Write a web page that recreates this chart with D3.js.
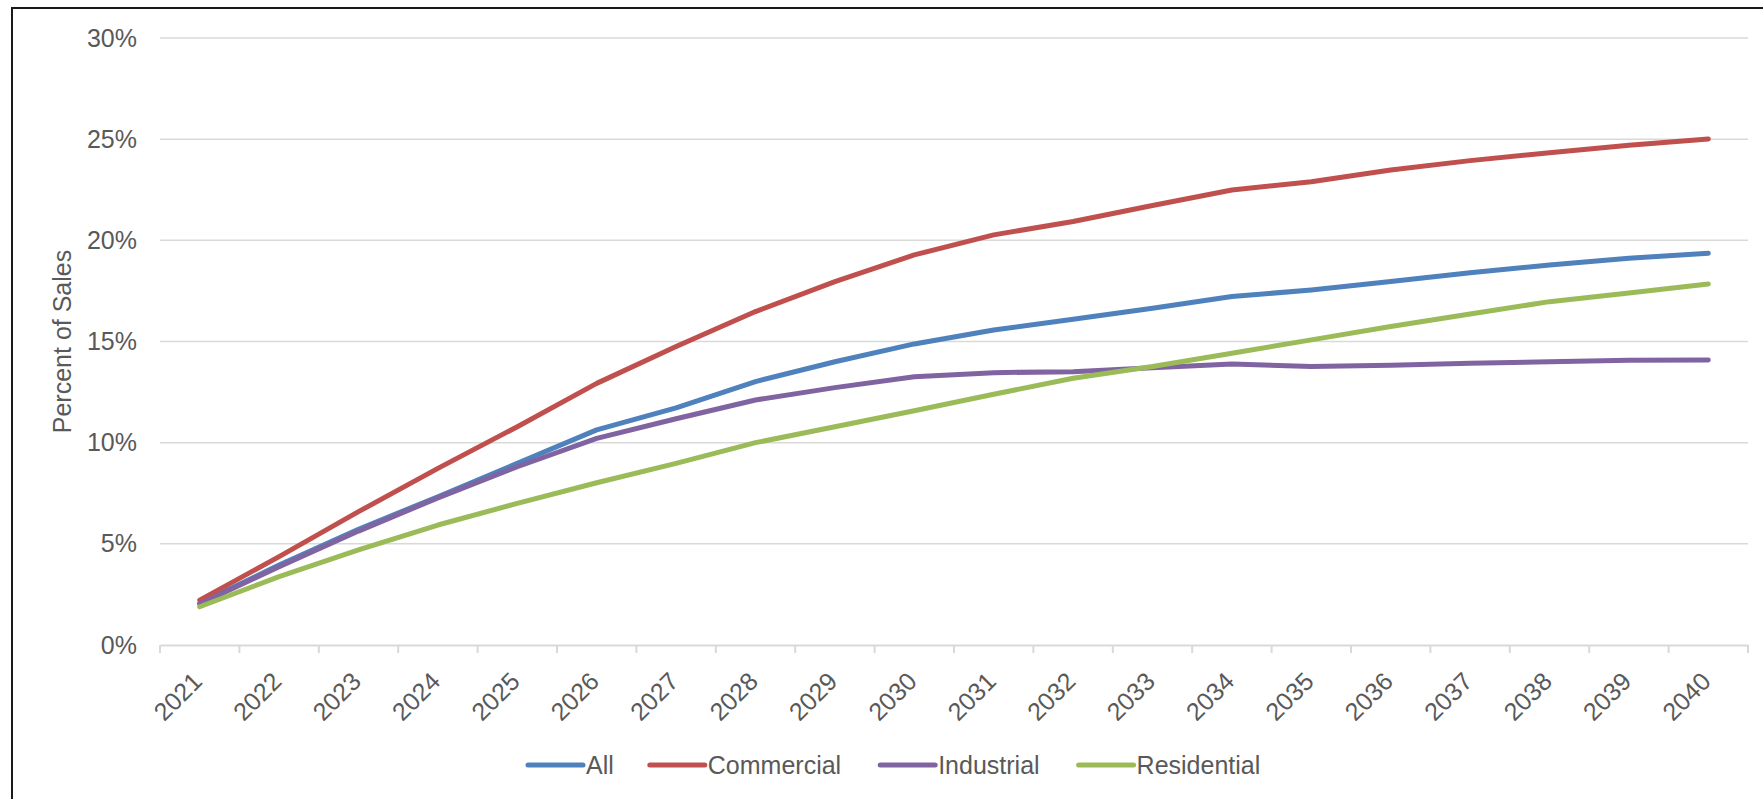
<!DOCTYPE html>
<html>
<head>
<meta charset="utf-8">
<script src="https://cdn.jsdelivr.net/npm/d3@7/dist/d3.min.js"></script>
<style>
  html, body { margin: 0; padding: 0; background: #fff; }
  svg { display: block; font-family: "Liberation Sans", Arial, sans-serif; }
</style>
</head>
<body>
<svg id="chart" width="1763" height="799"></svg>
<script>
const years = ["2021","2022","2023","2024","2025","2026","2027","2028","2029","2030",
               "2031","2032","2033","2034","2035","2036","2037","2038","2039","2040"];
const seriesNames = ["All", "Commercial", "Industrial", "Residential"];
const allValues =         [2.05, 3.95, 5.72, 7.33, 8.98, 10.63, 11.72, 13.02, 14.00, 14.88, 15.57, 16.10, 16.64, 17.22, 17.55, 17.96, 18.40, 18.78, 19.12, 19.36];
const commercialValues =  [2.22, 4.37, 6.59, 8.73, 10.79, 12.93, 14.75, 16.48, 17.96, 19.28, 20.27, 20.93, 21.72, 22.49, 22.90, 23.48, 23.94, 24.33, 24.70, 25.01];
const industrialValues =  [2.03, 3.87, 5.63, 7.27, 8.81, 10.21, 11.18, 12.11, 12.72, 13.26, 13.46, 13.51, 13.70, 13.89, 13.76, 13.83, 13.92, 14.00, 14.07, 14.08];
const residentialValues = [1.89, 3.38, 4.70, 5.93, 7.00, 8.02, 8.98, 10.00, 10.79, 11.58, 12.39, 13.18, 13.76, 14.42, 15.08, 15.74, 16.36, 16.97, 17.40, 17.84];
const yTicks = [0, 5, 10, 15, 20, 25, 30];
const yTitle = "Percent of Sales";
const colors = ["#4F81BD", "#C0504D", "#8064A2", "#9BBB59"];

const seriesValues = [allValues, commercialValues, industrialValues, residentialValues];
const series = seriesNames.map((name, i) => ({
  name, color: colors[i],
  values: years.map((y, j) => ({ year: y, value: seriesValues[i][j] }))
}));

const svg = d3.select("#chart");
const W = 1763, H = 799;
const plot = { left: 160, right: 1748, top: 38, bottom: 645 };
const textColor = "#595959";
const fontSize = 25;

// outer chart border
svg.append("rect")
  .attr("x", 12).attr("y", 8)
  .attr("width", W + 20).attr("height", H + 20)
  .attr("fill", "#fff").attr("stroke", "#1a1a1a").attr("stroke-width", 2);

const x = d3.scaleBand().domain(years).range([plot.left, plot.right]).paddingInner(0).paddingOuter(0);
const y = d3.scaleLinear().domain([0, 30]).range([plot.bottom, plot.top]);

// gridlines
svg.append("g")
  .selectAll("line")
  .data(yTicks.filter(t => t > 0))
  .join("line")
  .attr("x1", plot.left).attr("x2", plot.right)
  .attr("y1", d => y(d)).attr("y2", d => y(d))
  .attr("stroke", "#D9D9D9").attr("stroke-width", 1.5);

// y axis labels
const yAxis = d3.axisLeft(y).tickValues(yTicks).tickFormat(d => d + "%").tickSize(0).tickPadding(23);
const gy = svg.append("g").attr("transform", `translate(${plot.left},0)`).call(yAxis);
gy.select(".domain").remove();
gy.selectAll("text")
  .attr("fill", textColor)
  .style("font-size", fontSize + "px")
  .style("font-family", "'Liberation Sans', Arial, sans-serif");

// x axis
const xAxis = d3.axisBottom(x).tickSize(0).tickFormat(d => d);
const gx = svg.append("g").attr("transform", `translate(0,${plot.bottom})`).call(xAxis);
gx.select(".domain").attr("stroke", "#D9D9D9").attr("stroke-width", 2);
gx.selectAll(".tick line").remove();
// tick marks at band boundaries
const boundaries = years.map(d => x(d)).concat([x(years[years.length - 1]) + x.bandwidth()]);
gx.append("g").selectAll("line")
  .data(boundaries)
  .join("line")
  .attr("x1", d => d).attr("x2", d => d)
  .attr("y1", 0).attr("y2", 8)
  .attr("stroke", "#D9D9D9").attr("stroke-width", 2);
gx.selectAll(".tick text")
  .attr("fill", textColor)
  .style("font-size", fontSize + "px")
  .style("font-family", "'Liberation Sans', Arial, sans-serif")
  .attr("text-anchor", "end")
  .attr("dy", null)
  .attr("y", 0)
  .attr("transform", "translate(4,38) rotate(-45)");

// y title
svg.append("text")
  .attr("transform", `translate(71,${(plot.top + plot.bottom) / 2}) rotate(-90)`)
  .attr("text-anchor", "middle")
  .attr("fill", textColor)
  .style("font-size", fontSize + "px")
  .text(yTitle);

// lines
const line = d3.line()
  .x(d => x(d.year) + x.bandwidth() / 2)
  .y(d => y(d.value));

svg.append("g")
  .selectAll("path")
  .data(series)
  .join("path")
  .attr("d", d => line(d.values))
  .attr("fill", "none")
  .attr("stroke", d => d.color)
  .attr("stroke-width", 5)
  .attr("stroke-linecap", "round")
  .attr("stroke-linejoin", "round");

// legend
const legend = svg.append("g").attr("transform", "translate(528,765)");
let cx = 0;
series.forEach((s, i) => {
  const g = legend.append("g").attr("transform", `translate(${cx},0)`);
  g.append("line")
    .attr("x1", 0).attr("x2", 55).attr("y1", 0).attr("y2", 0)
    .attr("stroke", s.color).attr("stroke-width", 5).attr("stroke-linecap", "round");
  const t = g.append("text")
    .attr("x", 58).attr("y", 9)
    .attr("fill", textColor)
    .style("font-size", fontSize + "px")
    .text(s.name);
  const w = t.node().getComputedTextLength();
  cx += 58 + w + (i === 0 ? 36 : 39);
});
</script>
</body>
</html>
